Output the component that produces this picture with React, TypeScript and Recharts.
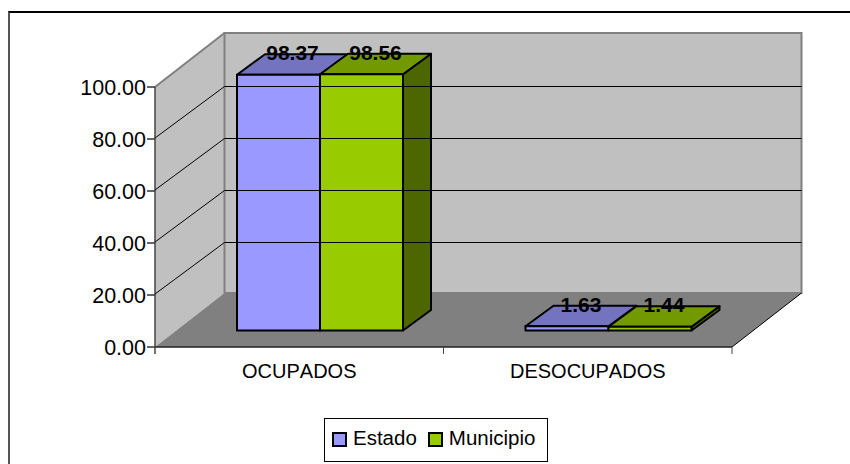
import React from "react";
import { BarChart, Bar, XAxis, YAxis, ReferenceArea, ReferenceLine, LabelList, Legend } from "recharts";

const categories = ["OCUPADOS", "DESOCUPADOS"];
const estado = [98.37, 1.63];
const municipio = [98.56, 1.44];
const yTicks = [0, 20, 40, 60, 80, 100];

const rows = categories.map((name, i) => ({ name, Estado: estado[i], Municipio: municipio[i] }));

const FONT = "'Liberation Sans', Arial, sans-serif";
const WALL_DX = 69.5;
const WALL_DY = -54;
const GRID_NUDGE = -1;
const GRID_DY = -51.5;
const BAR_SHIFT_X = 21;
const BAR_SHIFT_Y = -16.5;
const BAR_DX = 28;
const BAR_DY = -20.5;

const seriesColors = {
  Estado: { front: "#9999FF", top: "#7373BF", side: "#4D4D80" },
  Municipio: { front: "#99CC00", top: "#739900", side: "#4D6600" },
};

function Walls(props: any) {
  const { x, y, width, height } = props;
  const b = y + height;
  const r = x + width;
  const band = width / categories.length;
  return (
    <g>
      <polygon points={`${x},${y} ${x + WALL_DX},${y + WALL_DY} ${x + WALL_DX},${b + WALL_DY} ${x},${b}`} fill="#C0C0C0" />
      <rect x={x + WALL_DX} y={y + WALL_DY} width={width} height={height} fill="#C0C0C0" stroke="#808080" strokeWidth={2} />
      <line x1={x} y1={y} x2={x + WALL_DX} y2={y + WALL_DY} stroke="#808080" strokeWidth={2} />
      <polygon points={`${x},${b} ${r},${b} ${r + WALL_DX},${b + WALL_DY} ${x + WALL_DX},${b + WALL_DY}`} fill="#808080" />
      <line x1={r} y1={b} x2={r + WALL_DX} y2={b + WALL_DY} stroke="#000" strokeWidth={1} />
      <line x1={x} y1={b} x2={r} y2={b} stroke="#222" strokeWidth={1.5} />
      <line x1={x} y1={y} x2={x} y2={b + 7} stroke="#444" strokeWidth={1.5} />
      {categories.map((_, i) => (
        <line key={i} x1={x + band * (i + 1)} y1={b} x2={x + band * (i + 1)} y2={b + 7} stroke="#444" strokeWidth={1} />
      ))}
    </g>
  );
}

function GridLine(props: any) {
  const { x1, x2, y1 } = props;
  const x = Math.min(x1, x2);
  const w = Math.abs(x2 - x1);
  const f = y1 + GRID_NUDGE;
  const back = f + GRID_DY;
  return (
    <g>
      <line x1={x} y1={f} x2={x + WALL_DX} y2={back} stroke="#000" strokeWidth={1} />
      <line x1={x + WALL_DX} y1={back} x2={x + WALL_DX + w} y2={back} stroke="#000" strokeWidth={1} />
    </g>
  );
}

function Box3D(props: any) {
  const { x, y, width, height, dataKey } = props;
  const c = (seriesColors as any)[dataKey];
  const l = x + BAR_SHIFT_X;
  const t = y + BAR_SHIFT_Y;
  const r = l + width;
  const b = t + height;
  return (
    <g stroke="#000" strokeWidth={2} strokeLinejoin="round">
      <polygon points={`${r},${t} ${r + BAR_DX},${t + BAR_DY} ${r + BAR_DX},${b + BAR_DY} ${r},${b}`} fill={c.side} />
      <polygon points={`${l},${t} ${l + BAR_DX},${t + BAR_DY} ${r + BAR_DX},${t + BAR_DY} ${r},${t}`} fill={c.top} />
      <rect x={l} y={t} width={width} height={height} fill={c.front} />
    </g>
  );
}

function ValueLabel(props: any) {
  const { x, y, width, value } = props;
  return (
    <text
      x={x + BAR_SHIFT_X + BAR_DX / 2 + width / 2}
      y={y + BAR_SHIFT_Y - 22}
      textAnchor="middle"
      dominantBaseline="central"
      fontFamily={FONT}
      fontWeight="bold"
      fontSize={21}
      fill="#000"
    >
      {Number(value).toFixed(2)}
    </text>
  );
}

function LegendBox() {
  const items = ["Estado", "Municipio"];
  return (
    <div
      style={{
        boxSizing: "border-box",
        width: 224,
        height: 44,
        border: "1px solid #000",
        background: "#fff",
        display: "flex",
        alignItems: "center",
        paddingLeft: 7,
        paddingBottom: 5,
        fontFamily: FONT,
        fontSize: 20.5,
        color: "#000",
      }}
    >
      {items.map((k) => (
        <span key={k} style={{ display: "flex", alignItems: "center", marginRight: 11 }}>
          <span
            style={{
              display: "inline-block",
              boxSizing: "border-box",
              width: 15,
              height: 15,
              border: "2px solid #000",
              background: (seriesColors as any)[k].front,
              marginRight: 6,
              marginTop: 4,
            }}
          />
          {k}
        </span>
      ))}
    </div>
  );
}

export default function App() {
  return (
    <div style={{ position: "absolute", left: 0, top: 0, width: 850, height: 464, overflow: "hidden", background: "#fff" }}>
      <div
        style={{
          position: "absolute",
          left: 8,
          top: 11,
          width: 842,
          height: 453,
          boxSizing: "border-box",
          borderTop: "2px solid #000",
          borderLeft: "2px solid #555",
        }}
      />
      <BarChart
        width={850}
        height={464}
        data={rows}
        margin={{ top: 87, right: 118, bottom: 77, left: 0 }}
        barSize={83}
        barGap={0}
        style={{ position: "absolute", left: 0, top: 0 }}
      >
        <XAxis
          dataKey="name"
          height={40}
          axisLine={false}
          tickLine={false}
          tick={{ fontFamily: FONT, fontSize: 20, fill: "#000", style: { fontKerning: "none" } }}
          tickMargin={11}
        />
        <YAxis
          width={155}
          domain={[0, 100]}
          ticks={yTicks}
          axisLine={false}
          tickLine={{ stroke: "#333", strokeWidth: 1.5 }}
          tickSize={8}
          tickMargin={1}
          tick={{ fontFamily: FONT, fontSize: 21.5, fill: "#000" }}
          tickFormatter={(v: number) => v.toFixed(2)}
        />
        <ReferenceArea y1={0} y2={100} shape={<Walls />} />
        {yTicks.slice(1, -1).map((t) => (
          <ReferenceLine key={t} y={t} shape={<GridLine />} />
        ))}
        <Bar dataKey="Estado" fill={seriesColors.Estado.front} isAnimationActive={false} shape={(p: any) => <Box3D {...p} dataKey="Estado" />}>
          <LabelList dataKey="Estado" content={<ValueLabel />} />
        </Bar>
        <Bar dataKey="Municipio" fill={seriesColors.Municipio.front} isAnimationActive={false} shape={(p: any) => <Box3D {...p} dataKey="Municipio" />}>
          <LabelList dataKey="Municipio" content={<ValueLabel />} />
        </Bar>
        <Legend
          layout="horizontal"
          verticalAlign="middle"
          align="center"
          content={<LegendBox />}
          wrapperStyle={{ position: "absolute", left: 324, top: 418, width: 224, height: 44 }}
        />
      </BarChart>
    </div>
  );
}
